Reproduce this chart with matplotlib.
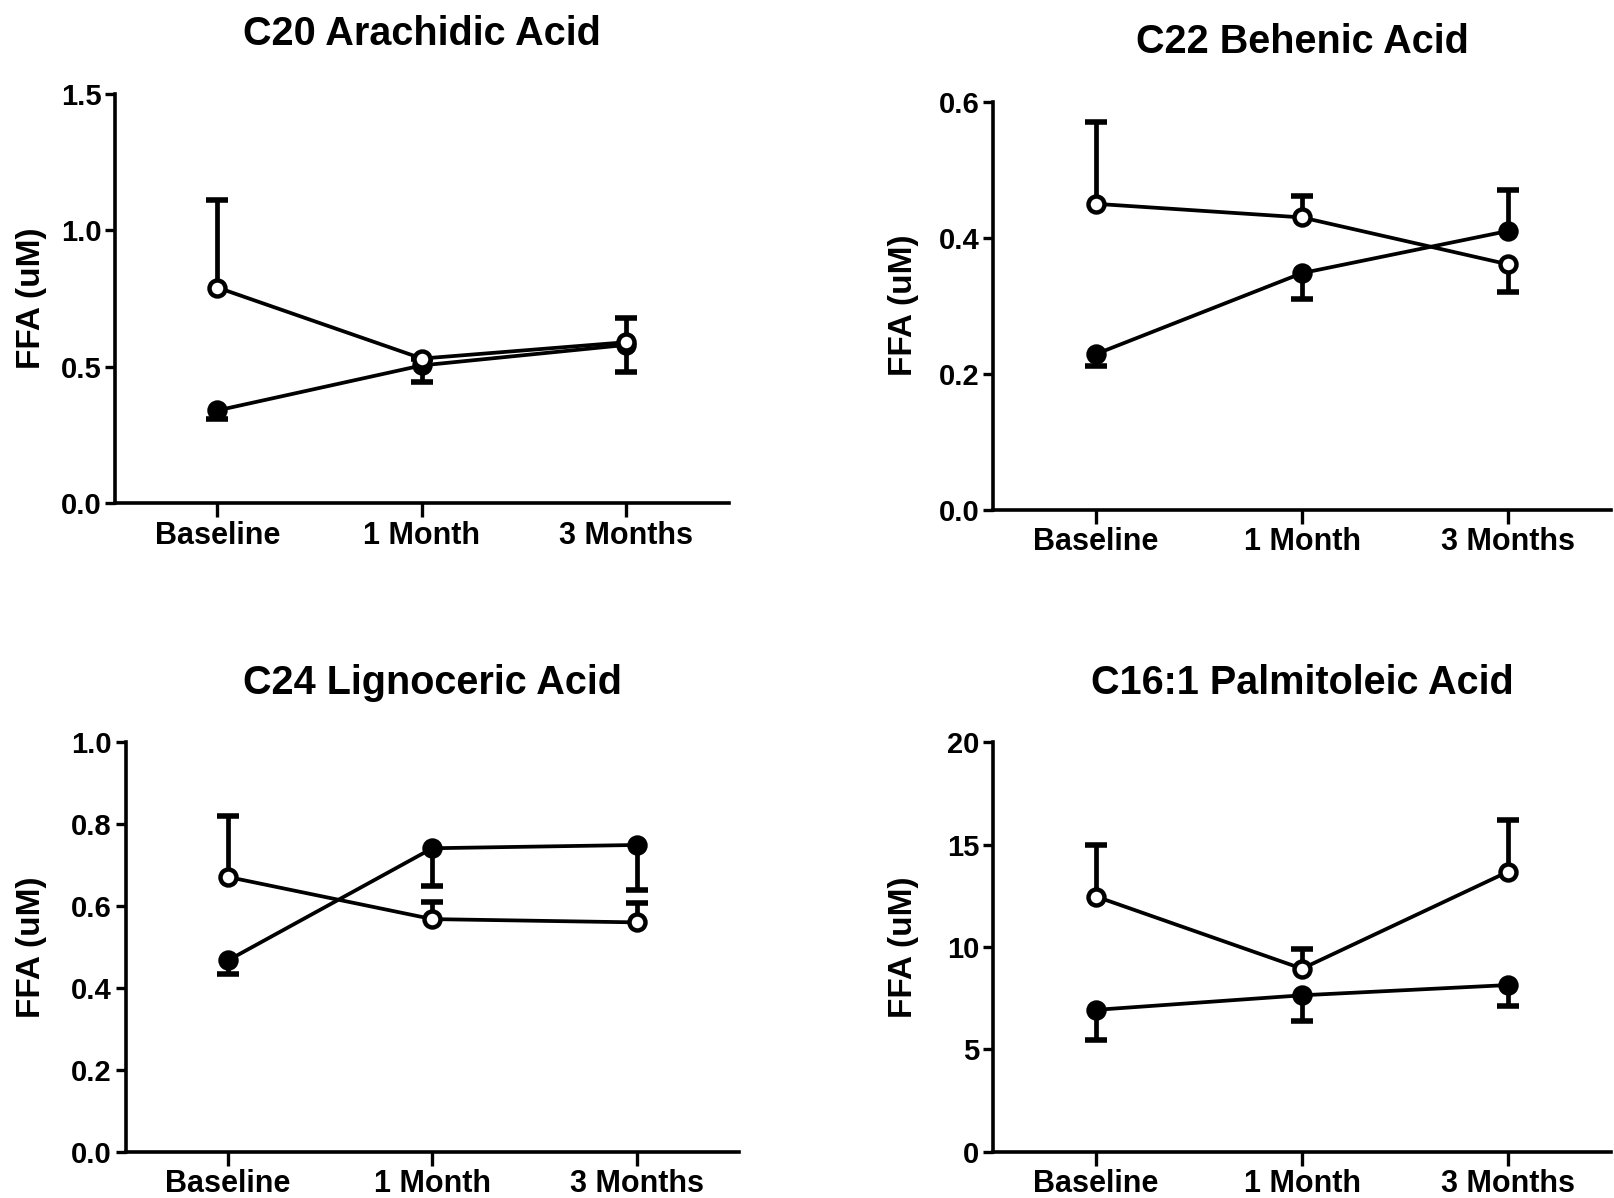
import matplotlib.pyplot as plt

plt.rcParams['font.family'] = ['Liberation Sans', 'DejaVu Sans']

timepoints = ["Baseline", "1 Month", "3 Months"]
x = [0, 1, 2]

titles = ["C20 Arachidic Acid", "C22 Behenic Acid", "C24 Lignoceric Acid", "C16:1 Palmitoleic Acid"]
y_max = [1.5, 0.6, 1.0, 20]
y_ticks = [[0.0, 0.5, 1.0, 1.5], [0.0, 0.2, 0.4, 0.6],
           [0.0, 0.2, 0.4, 0.6, 0.8, 1.0], [0, 5, 10, 15, 20]]
y_fmt = ["{:.1f}", "{:.1f}", "{:.1f}", "{:.0f}"]

# group means (open = one group, filled = the other) and the end of each one-sided error bar
c20_open = [0.79, 0.53, 0.59]
c20_open_tip = [1.11, 0.53, 0.68]
c20_filled = [0.34, 0.505, 0.58]
c20_filled_tip = [0.31, 0.445, 0.48]

c22_open = [0.45, 0.43, 0.361]
c22_open_tip = [0.571, 0.462, 0.32]
c22_filled = [0.229, 0.348, 0.41]
c22_filled_tip = [0.212, 0.31, 0.471]

c24_open = [0.671, 0.568, 0.56]
c24_open_tip = [0.82, 0.61, 0.608]
c24_filled = [0.467, 0.741, 0.749]
c24_filled_tip = [0.435, 0.65, 0.64]

c161_open = [12.46, 8.94, 13.67]
c161_open_tip = [15.0, 9.9, 16.2]
c161_filled = [6.93, 7.64, 8.14]
c161_filled_tip = [5.48, 6.38, 7.14]

panels = [
    (c20_open, c20_open_tip, c20_filled, c20_filled_tip),
    (c22_open, c22_open_tip, c22_filled, c22_filled_tip),
    (c24_open, c24_open_tip, c24_filled, c24_filled_tip),
    (c161_open, c161_open_tip, c161_filled, c161_filled_tip),
]

# axes rectangles [left, bottom, width, height] in figure fraction
rects = [
    [0.0714, 0.5799, 0.3801, 0.3419],
    [0.6154, 0.5747, 0.3826, 0.3402],
    [0.0778, 0.0386, 0.3801, 0.3419],
    [0.6154, 0.0386, 0.3826, 0.3419],
]
ylabel_x = [-0.137, -0.146, -0.154, -0.146]

fig = plt.figure(figsize=(16.14, 11.98), dpi=100)


def draw_series(ax, mean, tip, face):
    lo = [max(m - t, 0) for m, t in zip(mean, tip)]
    hi = [max(t - m, 0) for m, t in zip(mean, tip)]
    ax.errorbar(x, mean, yerr=[lo, hi], fmt='none', ecolor='black',
                elinewidth=3.4, capsize=0, zorder=2)
    ax.plot(x, tip, linestyle='none', marker='_', ms=16, mew=4,
            color='black', zorder=2)
    ax.plot(x, mean, color='black', lw=2.7, marker='o', ms=11.5,
            mfc=face, mec='black', mew=3.2, zorder=3, clip_on=False)


for i, (op, op_tip, fi, fi_tip) in enumerate(panels):
    ax = fig.add_axes(rects[i])
    draw_series(ax, fi, fi_tip, 'black')
    draw_series(ax, op, op_tip, 'white')

    ax.set_xlim(-0.5, 2.5)
    ax.set_ylim(0, y_max[i])
    ax.set_xticks(x)
    ax.set_xticklabels(timepoints, fontsize=22, fontweight='bold')
    ax.set_yticks(y_ticks[i])
    ax.set_yticklabels([y_fmt[i].format(v) for v in y_ticks[i]],
                       fontsize=21, fontweight='bold')
    ax.tick_params(axis='x', length=10, width=2.4, pad=2.5)
    ax.tick_params(axis='y', length=7, width=2.4, pad=3)

    ax.spines['top'].set_visible(False)
    ax.spines['right'].set_visible(False)
    ax.spines['left'].set_linewidth(2.6)
    ax.spines['bottom'].set_linewidth(2.6)

    ax.set_title(titles[i], fontsize=28.5, fontweight='bold', pad=35)
    ax.set_ylabel("FFA (uM)", fontsize=24, fontweight='bold')
    ax.yaxis.label.set_va('center')
    ax.yaxis.set_label_coords(ylabel_x[i], 0.5)

fig.savefig('out.png', dpi=100)
